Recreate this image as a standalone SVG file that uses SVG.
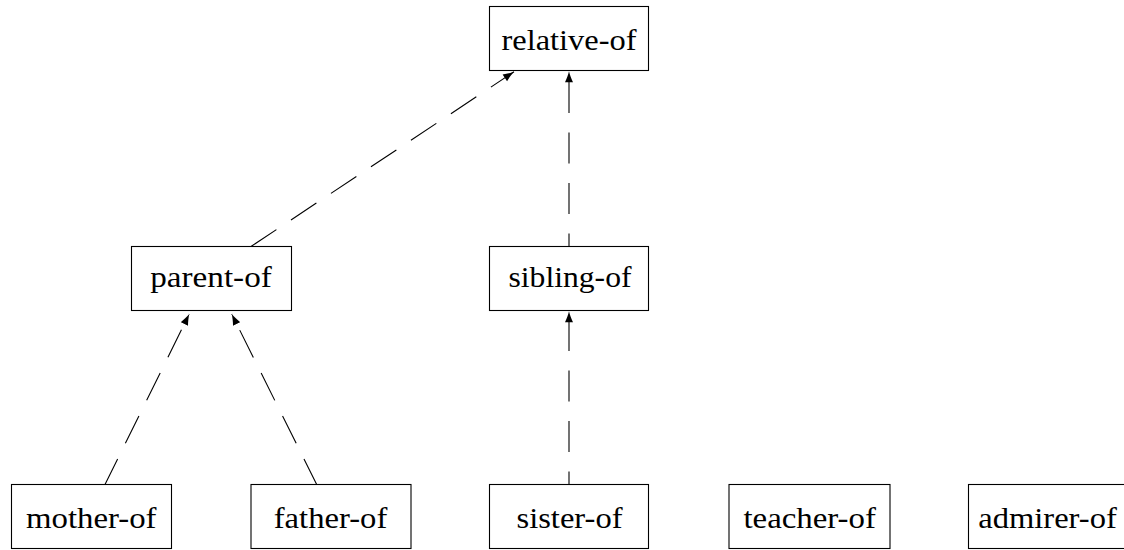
<svg xmlns="http://www.w3.org/2000/svg" width="1124" height="550" viewBox="0 0 1124 550">
  <style>
    .box { fill: #ffffff; stroke: #000000; stroke-width: 1.1; }
    .lbl { font-family: "Liberation Serif", "Times New Roman", serif; font-size: 30px; fill: #000000; text-anchor: middle; }
    .edge { fill: none; stroke: #000000; stroke-width: 1.1; marker-end: url(#arrow); }
    .dv { stroke-dasharray: 31 19.5; stroke-dashoffset: 18; }
    .dd { stroke-dasharray: 30.5 17.5; }
  </style>
  <defs>
    <marker id="arrow" markerUnits="userSpaceOnUse" markerWidth="12" markerHeight="9" viewBox="0 0 12 9" refX="11.5" refY="4.5" orient="auto">
      <path d="M11.5,4.5 C8,5.3 4,6.8 0.5,8.5 L0.5,0.5 C4,2.2 8,3.7 11.5,4.5 z" fill="#000000"/>
    </marker>
  </defs>

  <g id="connectors">
    <path class="edge dd" d="M251,246.5 L514,71.8"/>
    <path class="edge dv" d="M569,246.5 L569,71.2"/>
    <path class="edge dv" d="M569,484.5 L569,311.2"/>
    <path class="edge dd" style="stroke-dashoffset:2" d="M105,484.5 L189.3,314"/>
    <path class="edge dd" style="stroke-dashoffset:2" d="M316.7,484.5 L231.7,314"/>
  </g>

  <g id="relative-of">
    <rect class="box" x="489.5" y="6.5" width="159" height="64"/>
    <text class="lbl" x="569" y="50.2" textLength="135" lengthAdjust="spacingAndGlyphs">relative-of</text>
  </g>
  <g id="parent-of">
    <rect class="box" x="131.5" y="246.5" width="160" height="64"/>
    <text class="lbl" x="211" y="287" textLength="121.5" lengthAdjust="spacingAndGlyphs">parent-of</text>
  </g>
  <g id="sibling-of">
    <rect class="box" x="489.5" y="246.5" width="159" height="64"/>
    <text class="lbl" x="570" y="287" textLength="123" lengthAdjust="spacingAndGlyphs">sibling-of</text>
  </g>
  <g id="mother-of">
    <rect class="box" x="11.5" y="484.5" width="160" height="64"/>
    <text class="lbl" x="91.3" y="527.8" textLength="130.5" lengthAdjust="spacingAndGlyphs">mother-of</text>
  </g>
  <g id="father-of">
    <rect class="box" x="251" y="484.5" width="160" height="64"/>
    <text class="lbl" x="330.5" y="527.8" textLength="113.5" lengthAdjust="spacingAndGlyphs">father-of</text>
  </g>
  <g id="sister-of">
    <rect class="box" x="489.5" y="484.5" width="159" height="64"/>
    <text class="lbl" x="569.5" y="527.8" textLength="106" lengthAdjust="spacingAndGlyphs">sister-of</text>
  </g>
  <g id="teacher-of">
    <rect class="box" x="729" y="484.5" width="161" height="64"/>
    <text class="lbl" x="809.7" y="527.8" textLength="132.5" lengthAdjust="spacingAndGlyphs">teacher-of</text>
  </g>
  <g id="admirer-of">
    <rect class="box" x="968.5" y="484.5" width="160" height="64"/>
    <text class="lbl" x="1047.5" y="527.8" textLength="138.5" lengthAdjust="spacingAndGlyphs">admirer-of</text>
  </g>
</svg>
